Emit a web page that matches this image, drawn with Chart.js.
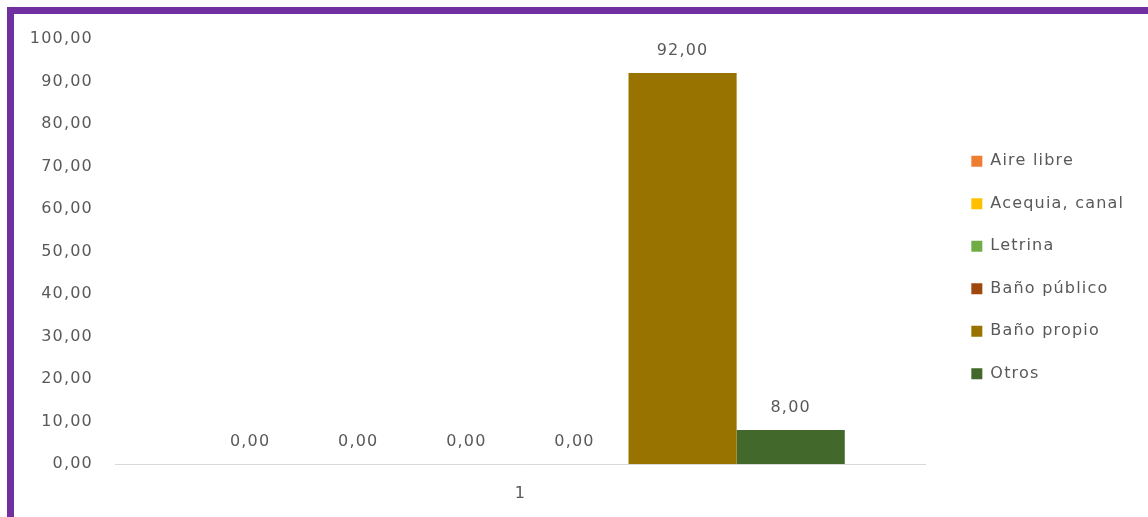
<!DOCTYPE html>
<html>
<head>
<meta charset="utf-8">
<script src="https://cdn.jsdelivr.net/npm/chart.js@4/dist/chart.umd.min.js"></script>
<style>
  html, body { margin: 0; padding: 0; background: #ffffff; width: 1148px; height: 517px; overflow: hidden; }
  #frame { position: absolute; left: 7px; top: 7px; width: 1134px; height: 503px;
           border-left: 7px solid #7030A0; border-top: 7px solid #7030A0; }
  #wrap { position: absolute; left: 0; top: 0; width: 1134px; height: 503px; }
</style>
</head>
<body>
<div id="frame"><div id="wrap"><canvas id="c"></canvas></div></div>
<script>
const categories = ["1"];
const seriesNames = ["Aire libre", "Acequia, canal", "Letrina", "Baño público", "Baño propio", "Otros"];
const seriesValues = [[0], [0], [0], [0], [92], [8]];
const seriesColors = ["#ED7D31", "#FFC000", "#70AD47", "#9E480E", "#997300", "#43682B"];
const yTicks = [0, 10, 20, 30, 40, 50, 60, 70, 80, 90, 100];

const fmt = v => Number(v).toFixed(2).replace('.', ',');
const FONT = "'DejaVu Sans', sans-serif";
const FSIZE = 16;
const TXT = '#595959';
const SPACING = '1.2px';

const spacingPlugin = {
  id: 'spacing',
  beforeUpdate(chart) { chart.ctx.letterSpacing = SPACING; },
  beforeDraw(chart) { chart.ctx.letterSpacing = SPACING; }
};

const labelPlugin = {
  id: 'barLabels',
  afterDatasetsDraw(chart) {
    const ctx = chart.ctx;
    ctx.save();
    ctx.letterSpacing = SPACING;
    ctx.font = FSIZE + 'px ' + FONT;
    ctx.fillStyle = TXT;
    ctx.textAlign = 'center';
    ctx.textBaseline = 'alphabetic';
    chart.data.datasets.forEach((ds, i) => {
      const meta = chart.getDatasetMeta(i);
      meta.data.forEach((bar, j) => {
        ctx.fillText(fmt(ds.data[j]), bar.x, bar.y - 18);
      });
    });
    ctx.restore();
  }
};

new Chart(document.getElementById('c'), {
  type: 'bar',
  data: {
    labels: categories,
    datasets: seriesNames.map((n, i) => ({
      label: n,
      data: seriesValues[i],
      backgroundColor: seriesColors[i],
      borderWidth: 0,
      categoryPercentage: 0.8,
      barPercentage: 1.0
    }))
  },
  options: {
    responsive: true,
    maintainAspectRatio: false,
    animation: false,
    layout: { padding: { left: 0, right: 17, top: 4, bottom: 0 } },
    plugins: {
      legend: {
        position: 'right',
        align: 'center',
        labels: {
          boxWidth: 11, boxHeight: 11, padding: 26.5,
          color: TXT, font: { family: FONT, size: FSIZE }
        }
      },
      tooltip: { enabled: false }
    },
    scales: {
      x: {
        grid: { display: false, drawTicks: false },
        border: { display: true, color: '#d9d9d9', width: 1 },
        ticks: { color: TXT, font: { family: FONT, size: FSIZE }, padding: 20 },
        afterFit: s => { s.height = 53; }
      },
      y: {
        min: 0, max: 100,
        afterBuildTicks: axis => { axis.ticks = yTicks.map(v => ({ value: v })); },
        grid: { display: false, drawTicks: false },
        border: { display: false },
        ticks: { color: TXT, font: { family: FONT, size: FSIZE }, padding: 22, callback: v => fmt(v) },
        afterFit: s => { s.width = 101; s.paddingTop = 25; s.paddingBottom = 0; }
      },
      gap: {
        type: 'linear',
        position: 'right',
        display: true,
        grid: { display: false, drawTicks: false },
        border: { display: false },
        ticks: { display: false },
        afterFit: s => { s.width = 19; s.paddingTop = 0; s.paddingBottom = 0; }
      }
    }
  },
  plugins: [spacingPlugin, labelPlugin]
});
</script>
</body>
</html>
